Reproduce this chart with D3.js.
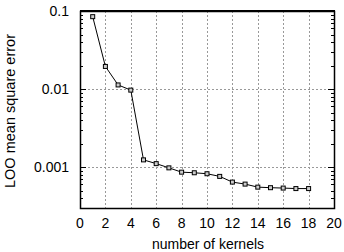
<!DOCTYPE html>
<html><head><meta charset="utf-8">
<script src="https://cdn.jsdelivr.net/npm/d3@7"></script>
<style>body{margin:0;background:#fff}svg{display:block}text{font-family:"Liberation Sans",Arial,sans-serif;}</style>
</head><body>
<script>
const kernels = [1,2,3,4,5,6,7,8,9,10,11,12,13,14,15,16,17,18];
const looError = [0.0846,0.0195,0.0113,0.0097,0.00124,0.00111,0.00098,0.000863,0.000848,0.000824,0.000762,0.000644,0.000607,0.000555,0.000546,0.00054,0.000532,0.000532];
const xTicks = [0,2,4,6,8,10,12,14,16,18,20];
const yTicks = [0.1,0.01,0.001];
const yTickLabels = ["0.1","0.01","0.001"];

const W=344,H=252, L=80, R=334, T=11, B=208;
const svg=d3.select("body").append("svg").attr("width",W).attr("height",H);
const x=d3.scaleLinear().domain([0,20]).range([L,R]);
const y=d3.scaleLog().domain([0.0003,0.1]).range([B,T]);

// grid
const g=svg.append("g");
g.selectAll("line.vx").data(xTicks.slice(1,-1)).join("line")
 .attr("x1",d=>Math.round(x(d))+0.5).attr("x2",d=>Math.round(x(d))+0.5).attr("y1",T).attr("y2",B)
 .attr("stroke","#999").attr("stroke-dasharray","2,2").attr("stroke-width",1);
g.selectAll("line.hy").data(yTicks.slice(1)).join("line")
 .attr("y1",d=>Math.round(y(d))+0.5).attr("y2",d=>Math.round(y(d))+0.5).attr("x1",L).attr("x2",R)
 .attr("stroke","#999").attr("stroke-dasharray","2,2").attr("stroke-width",1);

// minor ticks
const minors=[];
for(let e=-4;e<=-2;e++){for(let m=2;m<=9;m++){const v=m*Math.pow(10,e); if(v>=0.0003&&v<0.1) minors.push(v);}}
svg.selectAll("line.ml").data(minors).join("line")
 .attr("x1",L).attr("x2",L+3).attr("y1",d=>Math.round(y(d))+0.5).attr("y2",d=>Math.round(y(d))+0.5).attr("stroke","#000");
svg.selectAll("line.mr").data(minors).join("line")
 .attr("x1",R-3).attr("x2",R).attr("y1",d=>Math.round(y(d))+0.5).attr("y2",d=>Math.round(y(d))+0.5).attr("stroke","#000");
svg.selectAll("line.Ml").data(yTicks).join("line")
 .attr("x1",L).attr("x2",L+6).attr("y1",d=>Math.round(y(d))+0.5).attr("y2",d=>Math.round(y(d))+0.5).attr("stroke","#000");
svg.selectAll("line.Mr").data(yTicks).join("line")
 .attr("x1",R-6).attr("x2",R).attr("y1",d=>Math.round(y(d))+0.5).attr("y2",d=>Math.round(y(d))+0.5).attr("stroke","#000");

// border
svg.append("rect").attr("x",L+0.5).attr("y",T+0.5).attr("width",R-L).attr("height",B-T)
 .attr("fill","none").attr("stroke","#000").attr("stroke-width",1.5);
svg.append("line").attr("x1",L).attr("x2",R+1).attr("y1",T).attr("y2",T).attr("stroke","#000").attr("stroke-width",2);

// labels
svg.selectAll("text.yl").data(yTicks).join("text")
 .attr("x",L-11).attr("y",d=>y(d)).attr("dy","0.35em").attr("text-anchor","end")
 .attr("font-size",14).text((d,i)=>yTickLabels[i]);
svg.selectAll("text.xl").data(xTicks).join("text")
 .attr("x",d=>x(d)).attr("y",B+20).attr("text-anchor","middle")
 .attr("font-size",14).text(d=>d);
svg.append("text").attr("x",(L+R)/2+1).attr("y",249).attr("text-anchor","middle").attr("font-size",14).text("number of kernels");
svg.append("text").attr("transform","translate(15,111) rotate(-90)").attr("text-anchor","middle").attr("font-size",14.5).text("LOO mean square error");

// line
const line=d3.line().x((d,i)=>x(kernels[i])).y(d=>y(d));
svg.append("path").datum(looError).attr("d",line).attr("fill","none").attr("stroke","#000").attr("stroke-width",1);
svg.selectAll("rect.pt").data(looError).join("rect")
 .attr("x",(d,i)=>x(kernels[i])-2).attr("y",d=>y(d)-2).attr("width",4).attr("height",4)
 .attr("fill","#ccc").attr("stroke","#000").attr("stroke-width",1);
</script>
</body></html>
